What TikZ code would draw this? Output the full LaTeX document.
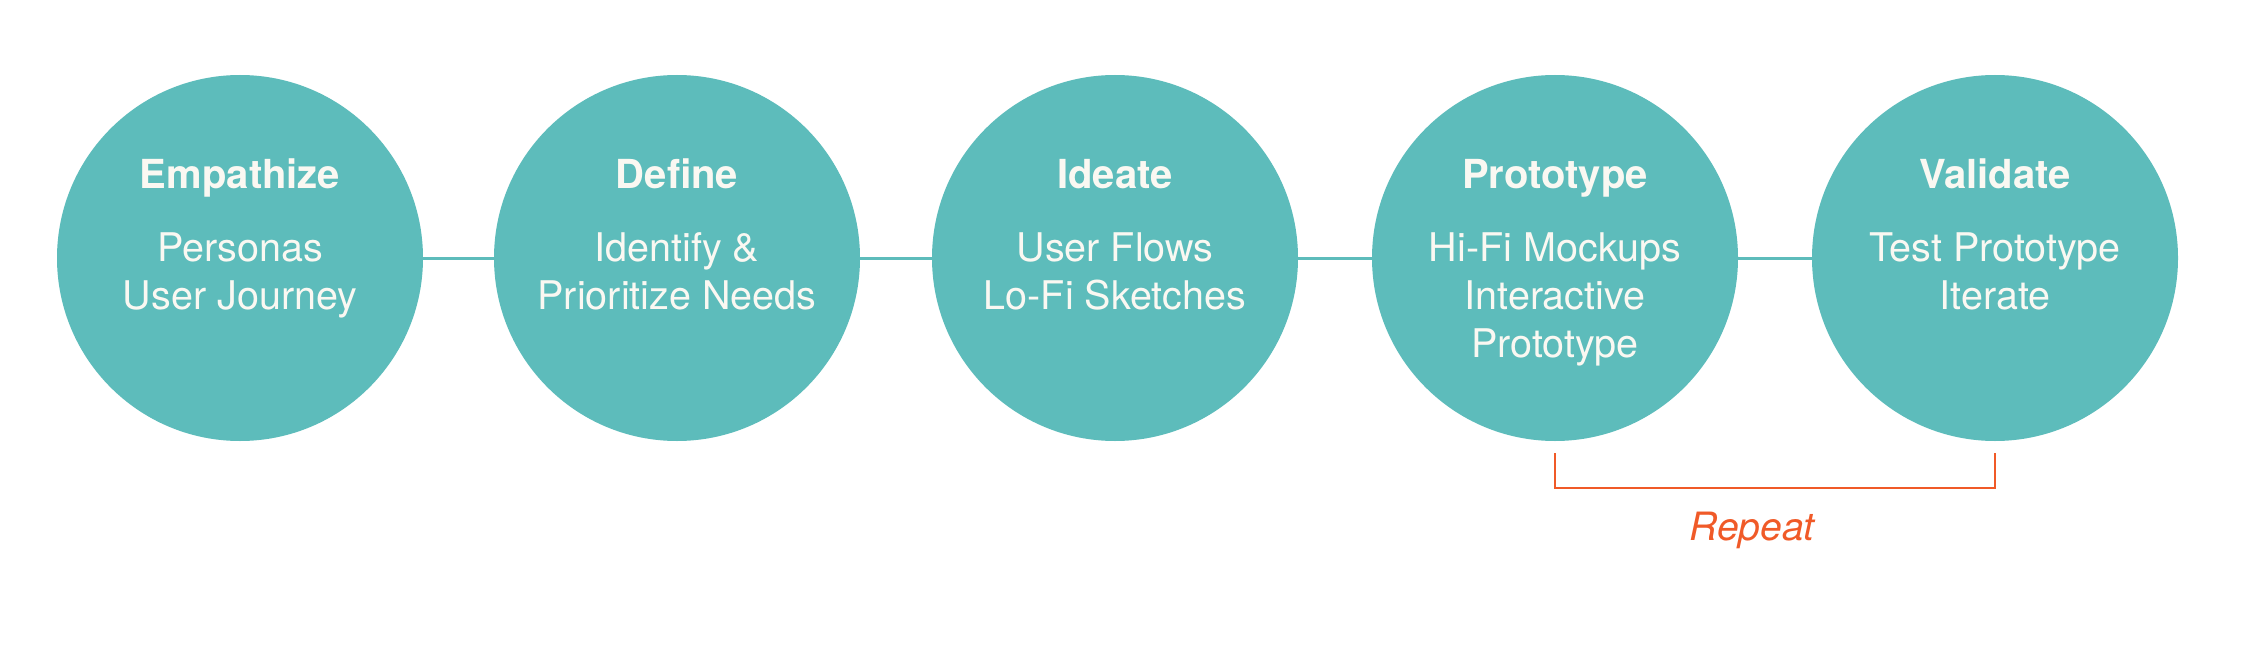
\documentclass[tikz,border=0pt]{standalone}
\usepackage{fontspec}
\setmainfont{TeX Gyre Heros}
\definecolor{teal1}{HTML}{5DBCBB}
\definecolor{txt}{HTML}{FAF8F2}
\definecolor{orng}{HTML}{F05A28}
\tikzset{
  stage/.style={circle, fill=teal1, minimum size=366pt, inner sep=0pt},
  ttl/.style={anchor=base, text=txt, font=\fontsize{40}{46}\selectfont\bfseries},
  sub/.style={anchor=base, text=txt, font=\fontsize{39.5}{46}\selectfont},
  link/.style={draw=teal1, line width=3pt},
  brk/.style={draw=orng, line width=2pt},
}
\begin{document}
\begin{tikzpicture}[x=1pt,y=1pt]
\useasboundingbox (0,0) rectangle (2245,-666);
\node[stage] (c1) at (240,-258) {};
\node[stage] (c2) at (677,-258) {};
\node[stage] (c3) at (1115,-258) {};
\node[stage] (c4) at (1555,-258) {};
\node[stage] (c5) at (1995,-258) {};
\draw[link] (c1.east) -- (c2.west);
\draw[link] (c2.east) -- (c3.west);
\draw[link] (c3.east) -- (c4.west);
\draw[link] (c4.east) -- (c5.west);
% texts
\node[ttl] (t1) at ([yshift=70pt]c1.center) {Empathize};
\node[sub] (s11) at ([yshift=-3pt]c1.center) {Personas};
\node[sub] (s12) at ([yshift=-51pt]c1.center) {User Journey};
\node[ttl] (t2) at ([yshift=70pt]c2.center) {Define};
\node[sub] (s21) at ([yshift=-3pt]c2.center) {Identify \&};
\node[sub] (s22) at ([yshift=-51pt]c2.center) {Prioritize Needs};
\node[ttl] (t3) at ([yshift=70pt]c3.center) {Ideate};
\node[sub] (s31) at ([yshift=-3pt]c3.center) {User Flows};
\node[sub] (s32) at ([yshift=-51pt]c3.center) {Lo-Fi Sketches};
\node[ttl] (t4) at ([yshift=70pt]c4.center) {Prototype};
\node[sub] (s41) at ([yshift=-3pt]c4.center) {Hi-Fi Mockups};
\node[sub] (s42) at ([yshift=-51pt]c4.center) {Interactive};
\node[sub] (s43) at ([yshift=-99pt]c4.center) {Prototype};
\node[ttl] (t5) at ([yshift=70pt]c5.center) {Validate};
\node[sub] (s51) at ([yshift=-3pt]c5.center) {Test Prototype};
\node[sub] (s52) at ([yshift=-51pt]c5.center) {Iterate};
% repeat bracket
\coordinate (b1) at (1555,-453);
\coordinate (b2) at (1995,-453);
\draw[brk] (b1) -- (1555,-488) -- (1995,-488) -- (b2);
\node[anchor=base, text=orng, font=\fontsize{39}{46}\selectfont\itshape] (rep) at (1752,-540) {Repeat};
\end{tikzpicture}
\end{document}
